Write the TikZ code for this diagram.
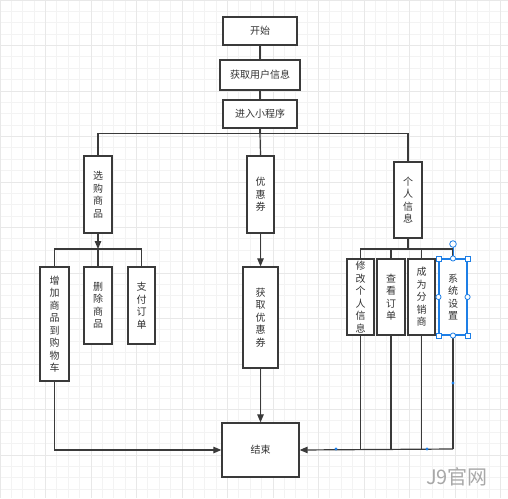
\documentclass[tikz,border=0pt]{standalone}
\usepackage{fontspec}
\usepackage{tikz}
\usetikzlibrary{arrows.meta}
\newfontfamily\cjk{Noto Sans CJK SC}
\definecolor{boxgray}{HTML}{3A3A3A}
\definecolor{txtgray}{HTML}{333333}
\definecolor{gridminor}{HTML}{F3F3F3}
\definecolor{gridmajor}{HTML}{E8E8E8}
\definecolor{selblue}{HTML}{1E7FE6}
\definecolor{markgray}{HTML}{A8A8A8}

\tikzset{
  box/.style = {draw = boxgray, line width = 1.3pt, fill = white, inner sep = 0pt,
                text = txtgray, align = center,
                font = \cjk\fontsize{10}{12.5}\selectfont},
  link/.style = {draw = boxgray, line width = 1.2pt},
  tip/.style = {-{Triangle[length = 8pt, width = 6.5pt]}},
  handle/.style = {draw = selblue, line width = 0.8pt, fill = white}
}

\begin{document}
\begin{tikzpicture}[x = 1pt, y = -1pt]
			\useasboundingbox (0,0) rectangle (508,498);

			% background grid
			\begin{scope}
				\foreach \i in {0,...,44} {
					\draw [gridminor, line width = 0.8pt] ({\i*11.375},0) -- ({\i*11.375},498);
				}
				\foreach \i in {0,...,43} {
					\draw [gridminor, line width = 0.8pt] (0,{\i*11.375}) -- (508,{\i*11.375});
				}
				\foreach \i in {0,4,...,44} {
					\draw [gridmajor, line width = 0.8pt] ({\i*11.375},0) -- ({\i*11.375},498);
				}
				\foreach \i in {0,4,...,40} {
					\draw [gridmajor, line width = 0.8pt] (0,{\i*11.375}) -- (508,{\i*11.375});
				}
			\end{scope}

			% top chain
			\node [box, minimum width = 74, minimum height = 28] (start) at (260,31) {开始};
			\node [box, minimum width = 80, minimum height = 30] (userinfo) at (260,75) {获取用户信息};
			\node [box, minimum width = 74, minimum height = 28] (enter) at (260,114) {进入小程序};

			% second level
			\node [box, minimum width = 28, minimum height = 77] (shop) at (98,194.5) {选\\购\\商\\品};
			\node [box, minimum width = 27, minimum height = 77] (coupon) at (260.5,194.5) {优\\惠\\券};
			\node [box, minimum width = 28, minimum height = 76] (personal) at (408,200) {个\\人\\信\\息};

			% third level
			\node [box, minimum width = 29, minimum height = 114] (addcart) at (54.5,324) {增\\加\\商\\品\\到\\购\\物\\车};
			\node [box, minimum width = 28, minimum height = 77] (delete) at (98,305.5) {删\\除\\商\\品};
			\node [box, minimum width = 27, minimum height = 77] (pay) at (141.5,305.5) {支\\付\\订\\单};
			\node [box, minimum width = 35, minimum height = 101] (getcoupon) at (260.5,317.5) {获\\取\\优\\惠\\券};
			\node [box, minimum width = 27, minimum height = 76] (modify) at (360.5,297) {修\\改\\个\\人\\信\\息};
			\node [box, minimum width = 28, minimum height = 76] (orders) at (391,297) {查\\看\\订\\单};
			\node [box, minimum width = 27, minimum height = 76] (dealer) at (421.5,297) {成\\为\\分\\销\\商};
			\node [box, draw = selblue, line width = 1.1pt, minimum width = 28, minimum height = 76] (settings) at (453,297) {系\\统\\设\\置};

			% end
			\node [box, minimum width = 77, minimum height = 54] (end) at (260.5,450) {结束};

			\coordinate (topbar) at (260,133.5);
			\coordinate (shopbar) at (98,249);
			\coordinate (infobar) at (408,249);
			\coordinate (joinright) at (453,449);

			% connectors
			\draw [link] (start) -- (userinfo);
			\draw [link] (userinfo) -- (enter);
			\draw [link] (enter) -- (topbar);
			\draw [link] (shop.north) |- (topbar) -| (personal.north);
			\draw [link] (topbar) -- (coupon.north);

			\draw [link, tip] (shop) -- (shopbar);
			\draw [link] (addcart.north) |- (shopbar) -| (pay.north);
			\draw [link] (shopbar) -- (delete.north);

			\draw [link, tip] (coupon) -- (getcoupon);
			\draw [link, tip] (getcoupon) -- (end);

			\draw [link] (personal) -- (infobar);
			\draw [link] (modify.north) |- (infobar) -| (settings.north);
			\draw [link] (orders.north) |- (infobar);
			\draw [link] (dealer.north) |- (infobar);

			\draw [link, tip] (addcart.south) |- (end.west);
			\draw [link] (modify.south) -- (modify.south |- joinright);
			\draw [link] (orders.south) -- (orders.south |- joinright);
			\draw [link] (dealer.south) -- (dealer.south |- joinright);
			\draw [link] (settings.south) -- (joinright);
			\draw [link, tip] (joinright) -- (end.east);

			% selection handles
			\begin{scope}
				\draw [selblue, line width = 0.8pt] (settings.north) -- ++(0,-12);
				\draw [handle] (453,244) circle (3.3);
				\foreach \c in {north west, north east, south west, south east} {
					\draw [handle] ([shift = {(-2.5,-2.5)}]settings.\c) rectangle ++(5,5);
				}
				\foreach \c in {north, south, west, east} {
					\draw [handle] (settings.\c) circle (2.6);
				}
				\fill [selblue] (336,449) circle (1.6);
				\fill [selblue] (427,449) circle (1.6);
				\fill [selblue] (453,383) circle (1.6);
			\end{scope}

			% watermark
			\node [text = markgray, font = \cjk\fontsize{20}{20}\selectfont, inner sep = 0pt] (mark) at (457,477) {J9官网};
		\end{tikzpicture}
\end{document}
